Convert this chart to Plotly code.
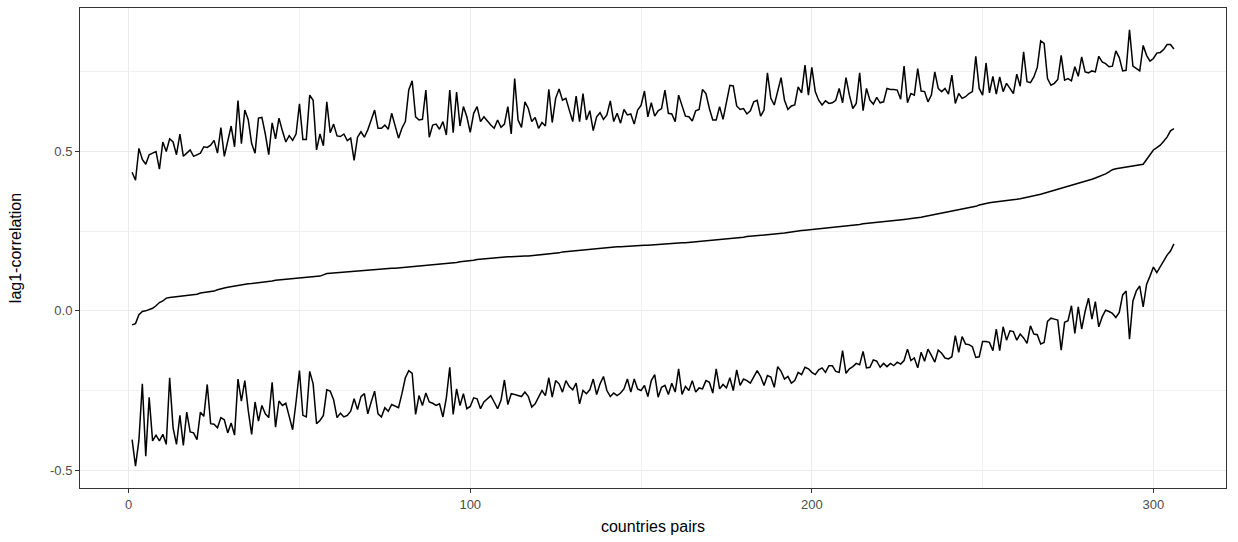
import plotly.graph_objects as go

pairs = list(range(1, 307))

upper = [
0.435, 0.41, 0.51, 0.475, 0.46, 0.49, 0.495, 0.50, 0.445, 0.53,
0.50, 0.54, 0.53, 0.49, 0.555, 0.485, 0.495, 0.505, 0.485, 0.49,
0.495, 0.515, 0.513, 0.52, 0.535, 0.495, 0.575, 0.485, 0.535, 0.58,
0.515, 0.66, 0.525, 0.63, 0.60, 0.525, 0.495, 0.605, 0.607, 0.555,
0.49, 0.59, 0.54, 0.605, 0.565, 0.53, 0.55, 0.535, 0.555, 0.65,
0.538, 0.538, 0.677, 0.661, 0.505, 0.555, 0.518, 0.656, 0.559, 0.586,
0.549, 0.547, 0.555, 0.534, 0.542, 0.472, 0.545, 0.562, 0.545, 0.568,
0.599, 0.63, 0.573, 0.573, 0.583, 0.57, 0.62, 0.58, 0.542, 0.573,
0.594, 0.693, 0.722, 0.609, 0.599, 0.601, 0.693, 0.545, 0.583, 0.586,
0.57, 0.594, 0.552, 0.693, 0.559, 0.687, 0.58, 0.641, 0.609, 0.56,
0.62, 0.641, 0.594, 0.609, 0.594, 0.583, 0.573, 0.599, 0.576, 0.586,
0.641, 0.555, 0.729, 0.599, 0.576, 0.656, 0.635, 0.594, 0.607, 0.573,
0.591, 0.58, 0.695, 0.591, 0.667, 0.696, 0.661, 0.667, 0.63, 0.594,
0.674, 0.594, 0.682, 0.599, 0.628, 0.566, 0.609, 0.622, 0.601, 0.615,
0.659, 0.594, 0.62, 0.589, 0.632, 0.615, 0.618, 0.586, 0.63, 0.645,
0.69, 0.609, 0.653, 0.611, 0.628, 0.635, 0.693, 0.62, 0.618, 0.594,
0.677, 0.643, 0.611, 0.609, 0.596, 0.628, 0.632, 0.695, 0.682, 0.635,
0.599, 0.599, 0.641, 0.601, 0.661, 0.708, 0.706, 0.643, 0.632, 0.635,
0.618, 0.628, 0.656, 0.661, 0.611, 0.63, 0.747, 0.667, 0.646, 0.693,
0.732, 0.661, 0.632, 0.643, 0.646, 0.703, 0.684, 0.771, 0.677, 0.764,
0.688, 0.661, 0.646, 0.659, 0.651, 0.653, 0.661, 0.698, 0.653, 0.732,
0.677, 0.635, 0.651, 0.747, 0.628, 0.698, 0.661, 0.649, 0.67, 0.653,
0.656, 0.698, 0.695, 0.695, 0.693, 0.664, 0.768, 0.653, 0.682, 0.677,
0.76, 0.69, 0.688, 0.656, 0.677, 0.75, 0.698, 0.688, 0.698, 0.68,
0.74, 0.651, 0.682, 0.667, 0.672, 0.682, 0.688, 0.799, 0.698, 0.677,
0.778, 0.684, 0.736, 0.68, 0.734, 0.688, 0.714, 0.698, 0.682, 0.743,
0.705, 0.813, 0.719, 0.716, 0.734, 0.764, 0.847, 0.839, 0.729, 0.708,
0.714, 0.726, 0.802, 0.724, 0.729, 0.722, 0.766, 0.736, 0.797, 0.75,
0.747, 0.753, 0.75, 0.799, 0.781, 0.776, 0.766, 0.768, 0.816, 0.795,
0.753, 0.755, 0.882, 0.768, 0.76, 0.753, 0.833, 0.802, 0.784, 0.792,
0.809, 0.811, 0.82, 0.836, 0.836, 0.822,
]

middle = [
-0.044, -0.040, -0.012, -0.002, 0.000, 0.005, 0.008, 0.016, 0.026, 0.031,
0.040, 0.042, 0.043, 0.045, 0.045, 0.046, 0.047, 0.048, 0.050, 0.052,
0.056, 0.057, 0.059, 0.061, 0.062, 0.066, 0.070, 0.072, 0.074, 0.076,
0.078, 0.080, 0.083, 0.084, 0.085, 0.086, 0.087, 0.089, 0.090, 0.091,
0.093, 0.094, 0.096, 0.097, 0.099, 0.100, 0.101, 0.102, 0.103, 0.104,
0.105, 0.106, 0.106, 0.107, 0.108, 0.109, 0.113, 0.117, 0.118, 0.119,
0.119, 0.120, 0.121, 0.121, 0.122, 0.123, 0.124, 0.125, 0.126, 0.127,
0.128, 0.130, 0.131, 0.132, 0.132, 0.133, 0.134, 0.134, 0.135, 0.136,
0.137, 0.138, 0.138, 0.139, 0.140, 0.141, 0.141, 0.142, 0.143, 0.144,
0.145, 0.146, 0.147, 0.148, 0.150, 0.152, 0.154, 0.155, 0.155, 0.156,
0.159, 0.161, 0.162, 0.163, 0.165, 0.166, 0.167, 0.169, 0.169, 0.170,
0.170, 0.170, 0.171, 0.171, 0.171, 0.172, 0.172, 0.173, 0.174, 0.175,
0.176, 0.176, 0.177, 0.178, 0.179, 0.182, 0.185, 0.186, 0.187, 0.188,
0.189, 0.190, 0.191, 0.193, 0.195, 0.196, 0.197, 0.197, 0.198, 0.199,
0.199, 0.200, 0.201, 0.201, 0.202, 0.203, 0.203, 0.204, 0.204, 0.205,
0.206, 0.206, 0.207, 0.208, 0.209, 0.210, 0.211, 0.211, 0.212, 0.213,
0.213, 0.214, 0.214, 0.215, 0.215, 0.216, 0.216, 0.217, 0.219, 0.220,
0.222, 0.223, 0.224, 0.224, 0.225, 0.226, 0.226, 0.227, 0.229, 0.231,
0.233, 0.234, 0.235, 0.236, 0.237, 0.238, 0.238, 0.239, 0.240, 0.240,
0.242, 0.244, 0.246, 0.248, 0.250, 0.251, 0.252, 0.253, 0.254, 0.255,
0.256, 0.257, 0.258, 0.259, 0.260, 0.261, 0.262, 0.263, 0.264, 0.265,
0.267, 0.268, 0.270, 0.271, 0.273, 0.274, 0.276, 0.277, 0.278, 0.280,
0.281, 0.282, 0.283, 0.284, 0.285, 0.286, 0.287, 0.288, 0.289, 0.290,
0.292, 0.294, 0.296, 0.298, 0.300, 0.302, 0.304, 0.306, 0.308, 0.310,
0.312, 0.314, 0.316, 0.318, 0.320, 0.322, 0.325, 0.328, 0.332, 0.335,
0.337, 0.339, 0.341, 0.342, 0.343, 0.344, 0.345, 0.347, 0.348, 0.350,
0.352, 0.354, 0.356, 0.358, 0.360, 0.363, 0.366, 0.369, 0.372, 0.375,
0.378, 0.381, 0.384, 0.387, 0.390, 0.393, 0.396, 0.399, 0.402, 0.405,
0.409, 0.413, 0.417, 0.421, 0.425, 0.430, 0.436, 0.443, 0.446, 0.448,
0.450, 0.452, 0.453, 0.455, 0.456, 0.458, 0.460, 0.475, 0.490, 0.505,
0.512, 0.520, 0.532, 0.545, 0.565, 0.572,
]

lower = [
-0.404, -0.4875, -0.406, -0.229, -0.456, -0.271, -0.408, -0.39, -0.408, -0.3875,
-0.419, -0.21, -0.367, -0.419, -0.328, -0.422, -0.318, -0.38, -0.383, -0.404,
-0.318, -0.331, -0.231, -0.354, -0.356, -0.367, -0.335, -0.342, -0.383, -0.352,
-0.39, -0.214, -0.283, -0.219, -0.3125, -0.3875, -0.286, -0.346, -0.297, -0.323,
-0.335, -0.224, -0.365, -0.283, -0.297, -0.29, -0.331, -0.373, -0.286, -0.1875,
-0.328, -0.333, -0.19, -0.229, -0.354, -0.344, -0.328, -0.248, -0.252, -0.279,
-0.335, -0.321, -0.333, -0.328, -0.315, -0.276, -0.31, -0.269, -0.26, -0.323,
-0.286, -0.252, -0.323, -0.333, -0.304, -0.315, -0.294, -0.3, -0.304, -0.26,
-0.21, -0.1875, -0.196, -0.325, -0.266, -0.297, -0.258, -0.286, -0.29, -0.297,
-0.292, -0.333, -0.273, -0.177, -0.325, -0.245, -0.297, -0.26, -0.307, -0.3,
-0.273, -0.276, -0.307, -0.286, -0.276, -0.266, -0.286, -0.307, -0.281, -0.217,
-0.294, -0.26, -0.2625, -0.266, -0.269, -0.255, -0.269, -0.302, -0.292, -0.271,
-0.25, -0.266, -0.21, -0.271, -0.219, -0.229, -0.255, -0.219, -0.2375, -0.248,
-0.227, -0.292, -0.25, -0.26, -0.248, -0.214, -0.2625, -0.229, -0.206, -0.25,
-0.269, -0.258, -0.266, -0.258, -0.245, -0.214, -0.255, -0.214, -0.245, -0.25,
-0.234, -0.269, -0.219, -0.2, -0.271, -0.24, -0.234, -0.2625, -0.227, -0.255,
-0.182, -0.2625, -0.2375, -0.25, -0.219, -0.255, -0.242, -0.245, -0.219, -0.224,
-0.258, -0.182, -0.245, -0.231, -0.242, -0.21, -0.25, -0.185, -0.234, -0.214,
-0.219, -0.227, -0.206, -0.1875, -0.206, -0.234, -0.203, -0.208, -0.24, -0.175,
-0.19, -0.214, -0.206, -0.227, -0.219, -0.193, -0.2, -0.177, -0.182, -0.193,
-0.2, -0.185, -0.179, -0.193, -0.172, -0.172, -0.19, -0.193, -0.125, -0.196,
-0.182, -0.175, -0.165, -0.169, -0.127, -0.179, -0.177, -0.154, -0.158, -0.177,
-0.165, -0.175, -0.165, -0.172, -0.161, -0.167, -0.156, -0.12, -0.156, -0.148,
-0.179, -0.13, -0.158, -0.12, -0.14, -0.161, -0.123, -0.133, -0.148, -0.151,
-0.144, -0.078, -0.13, -0.081, -0.104, -0.106, -0.1125, -0.146, -0.144, -0.096,
-0.096, -0.099, -0.125, -0.057, -0.125, -0.05, -0.092, -0.0625, -0.065, -0.092,
-0.073, -0.085, -0.102, -0.047, -0.073, -0.075, -0.104, -0.099, -0.033, -0.023,
-0.026, -0.029, -0.123, -0.036, -0.031, 0.016, -0.071, 0.0125, -0.057, -0.002,
0.04, -0.026, 0.029, -0.05, -0.019, 0.002, -0.002, -0.008, -0.021, -0.005,
0.05, 0.0625, -0.089, 0.031, 0.0625, 0.078, 0.0125, 0.083, 0.109, 0.1375,
0.12, 0.14, 0.158, 0.175, 0.1875, 0.21,
]

x_ticks = [0, 100, 200, 300]
y_ticks = [-0.5, 0.0, 0.5]
y_tick_labels = ["-0.5", "0.0", "0.5"]

fig = go.Figure()
for series in (upper, middle, lower):
    fig.add_trace(go.Scatter(x=pairs, y=series, mode="lines",
                             line=dict(color="black", width=1.5),
                             showlegend=False, hoverinfo="skip"))

font = "Liberation Sans, Arial, sans-serif"
xmin, xmax = min(pairs), max(pairs)
xpad = (xmax - xmin) * 0.05
allv = upper + middle + lower
ymin, ymax = min(allv), max(allv)
ypad = (ymax - ymin) * 0.05

axis_common = dict(
    showline=True, linecolor="#333333", linewidth=1, mirror=True,
    showgrid=True, gridcolor="#ebebeb", gridwidth=1,
    zeroline=False, ticks="outside", ticklen=4, tickwidth=1,
    tickcolor="#333333",
    tickfont=dict(family=font, size=13, color="#4d4d4d"),
)

fig.update_xaxes(
    **axis_common,
    range=[xmin - xpad, xmax + xpad],
    tickvals=x_ticks,
    minor=dict(dtick=50, tick0=0, showgrid=True, gridcolor="#f0f0f0", gridwidth=0.7, ticks=""),
    title=dict(text="countries pairs", font=dict(family=font, size=16, color="black"), standoff=10),
)
fig.update_yaxes(
    **axis_common,
    range=[ymin - ypad, ymax + ypad],
    tickvals=y_ticks, ticktext=y_tick_labels,
    minor=dict(dtick=0.25, tick0=0, showgrid=True, gridcolor="#f0f0f0", gridwidth=0.7, ticks=""),
    title=dict(text="lag1-correlation", font=dict(family=font, size=16, color="black"), standoff=24),
)

fig.update_layout(
    width=1238, height=542,
    margin=dict(l=80, r=12, t=8, b=54),
    paper_bgcolor="white", plot_bgcolor="white",
)

fig.write_html("out.html")
